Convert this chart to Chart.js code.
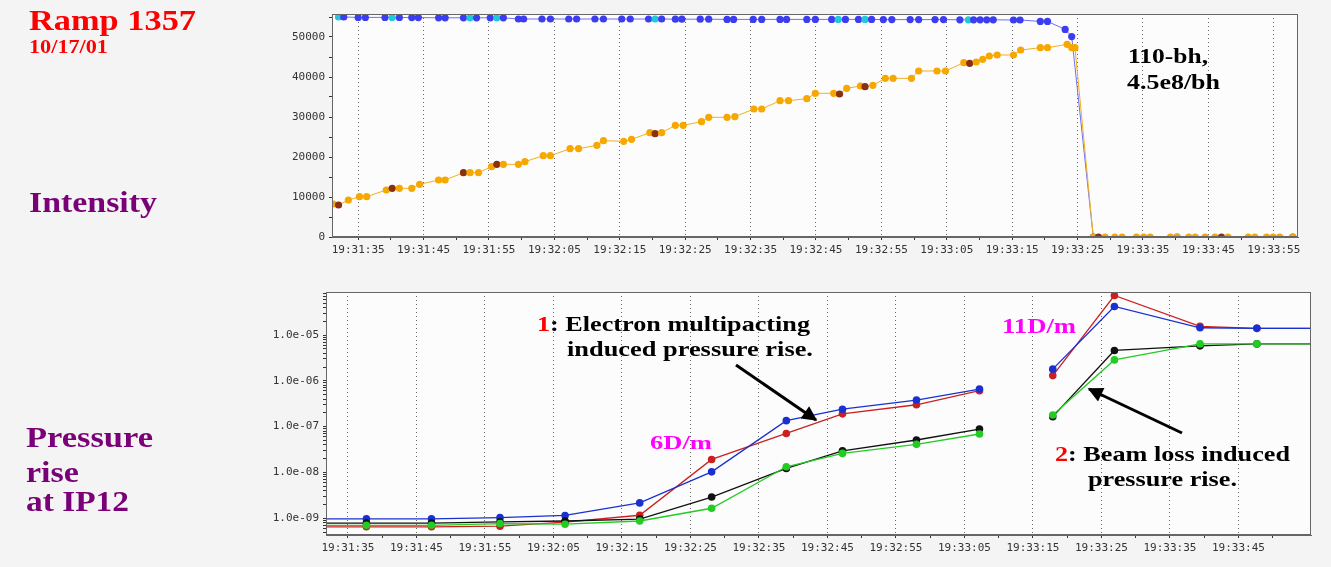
<!DOCTYPE html>
<html>
<head>
<meta charset="utf-8">
<script src="https://cdn.jsdelivr.net/npm/chart.js@4.4.1/dist/chart.umd.min.js"></script>
<style>
  html, body { margin: 0; padding: 0; background: #f4f4f4; }
  #wrap { position: relative; width: 1331px; height: 567px; overflow: hidden; background: #f4f4f4; }
  canvas { position: absolute; left: 0; }
  #c1 { top: 0; }
  #c2 { top: 270px; }
  .t { position: absolute; white-space: pre; line-height: 0; font-family: "Liberation Serif", "Times New Roman", serif; font-weight: bold; transform-origin: 0 50%; }
  svg { position: absolute; left: 0; top: 0; }
</style>
</head>
<body>
<div id="wrap">
  <canvas id="c1" width="1331" height="270"></canvas>
  <canvas id="c2" width="1331" height="297"></canvas>
  <svg width="1331" height="567" viewBox="0 0 1331 567">
    <defs>
      <marker id="ah" viewBox="0 0 10 10" refX="9" refY="5" markerWidth="5.5" markerHeight="5" orient="auto">
        <path d="M0,0 L10,5 L0,10 z" fill="#000"/>
      </marker>
    </defs>
    <line x1="736" y1="365" x2="816" y2="420" stroke="#000" stroke-width="3" marker-end="url(#ah)"/>
    <line x1="1182" y1="433" x2="1089" y2="389" stroke="#000" stroke-width="3" marker-end="url(#ah)"/>
  </svg>
</div>
<script>
// ---------- DATA ----------
// time = seconds after 19:31:00
const intensityTimeYellow = [31.2,32.0,33.5,35.2,36.3,39.3,40.2,41.3,43.2,44.4,47.3,48.3,51.1,52.1,53.4,55.4,56.2,57.2,59.5,60.5,
  63.3,64.4,67.4,68.7,71.5,72.5,75.6,76.8,79.6,80.4,81.4,83.5,84.7,87.5,88.6,91.4,92.6,95.5,96.7,99.5,
  100.8,103.6,104.9,107.7,108.6,109.7,111.8,112.5,113.7,115.6,116.8,119.6,120.7,123.5,124.8,127.6,128.5,129.5,130.5,131.5,
  132.7,135.2,136.3,139.3,140.4,143.4,144.1,144.6,147.4,148.2,149.2,150.7,151.8,154.0,155.1,156.1,159.2,160.2,162.0,163.0,
  164.5,166.0,167.0,168.0,171.1,172.1,173.9,174.9,175.9,177.9];
const intensityYellow = [8250,8000,9250,10080,10080,11750,12170,12170,12170,13170,14250,14250,16080,16080,16080,17580,18170,18170,18170,18830,
  20330,20330,22080,22080,22920,24080,23920,24420,26080,25830,26080,27920,27920,28830,29920,29920,30080,32000,32000,34080,
  34080,34580,35920,35920,35750,37170,37750,37580,37920,39670,39670,39670,41500,41500,41500,43580,43420,43750,44420,45250,
  45500,45500,46750,47330,47330,48170,47330,47330,0,0,0,0,0,0,0,0,0,0,0,0,
  0,0,0,0,0,0,0,0,0,0];
const yellowMarkedIdx = [1,6,12,16,29,44,47,56,69,82];

const intensityTimeBlue = [32.0,32.8,35.0,36.1,39.1,40.2,41.3,43.2,44.2,47.3,48.3,51.1,52.1,53.1,55.2,56.2,57.2,59.5,60.3,63.1,
  64.4,67.2,68.4,71.2,72.5,75.3,76.6,79.4,80.4,81.4,83.5,84.5,87.3,88.6,91.4,92.4,95.4,96.7,99.5,100.5,
  103.6,104.9,107.4,108.4,109.5,111.5,112.5,113.5,115.3,116.6,119.4,120.7,123.2,124.5,127.0,128.3,129.1,130.1,131.1,132.1,
  135.2,136.2,139.3,140.4,143.1,144.1,147.4,160.2,177.9];
const intensityBlue = [55000,55000,54900,54900,54900,54900,54900,54850,54850,54800,54800,54800,54800,54800,54800,54800,54800,54500,54500,54500,
  54500,54500,54500,54500,54500,54500,54500,54500,54500,54500,54450,54450,54450,54450,54400,54400,54400,54400,54400,54400,
  54400,54400,54400,54400,54400,54400,54400,54400,54350,54350,54350,54350,54350,54350,54300,54300,54300,54300,54300,54300,
  54250,54250,53900,53900,51900,50100,0,0,0];
const blueMarkedIdx = [0,5,12,15,28,43,46,55];

const intensityTicks = [35,40,45,50,55,60,65,70,75,80,85,90,95,100,105,110,115,120,125,130,135,140,145,150,155,160,165,170,175];
const intensityYTicks = [0,5000,10000,15000,20000,25000,30000,35000,40000,45000,50000,55000];

// pressure (null = data gap)
const pressureTime = [27, 37.7, 47.2, 57.2, 66.7, 77.6, 88.1, 99.0, 107.2, 118.0, 127.2, 132.5, 137.9, 146.9, 159.4, 167.7, 182];
const pressureBlue  = [0.97e-9, 0.97e-9, 0.97e-9, 1.03e-9, 1.15e-9, 2.16e-9, 1.03e-8, 1.35e-7, 2.4e-7, 3.8e-7, 6.6e-7, null, 1.8e-6, 4.2e-5, 1.44e-5, 1.4e-5, 1.4e-5];
const pressureRed   = [6.5e-10, 6.5e-10, 6.5e-10, 6.7e-10, 8.2e-10, 1.16e-9, 1.92e-8, 7.1e-8, 1.9e-7, 3.0e-7, 6.1e-7, null, 1.3e-6, 7.3e-5, 1.55e-5, 1.4e-5, 1.4e-5];
const pressureBlack = [7.8e-10, 7.8e-10, 7.8e-10, 8.3e-10, 8.7e-10, 9.6e-10, 2.9e-9, 1.22e-8, 2.97e-8, 5.1e-8, 8.85e-8, null, 1.65e-7, 4.6e-6, 5.8e-6, 6.4e-6, 6.4e-6];
const pressureGreen = [7.0e-10, 7.0e-10, 7.0e-10, 7.65e-10, 7.4e-10, 8.7e-10, 1.65e-9, 1.33e-8, 2.6e-8, 4.1e-8, 6.9e-8, null, 1.8e-7, 2.86e-6, 6.4e-6, 6.4e-6, 6.4e-6];
const pressureTicks = [35,40,45,50,55,60,65,70,75,80,85,90,95,100,105,110,115,120,125,130,135,140,145,150,155,160,165,170];
const pressureLabelMax = 165;

// ---------- helpers ----------
function fmtTime(t) {
  const m = 31 + Math.floor(t / 60);
  const s = Math.round(t % 60);
  return '19:' + String(m).padStart(2, '0') + ':' + String(s).padStart(2, '0');
}
function isLabelTick(v, maxLabel) { return ((v - 35) % 10 === 0) && v <= maxLabel; }
function pts(xs, ys) { return xs.map((x, i) => ({ x: x, y: ys[i] })); }

const framePlugin = {
  id: 'frame',
  beforeDraw(chart) {
    const { ctx, chartArea: a } = chart;
    ctx.save();
    ctx.fillStyle = '#fcfcfc';
    ctx.fillRect(a.left, a.top, a.right - a.left, a.bottom - a.top);
    ctx.restore();
  },
  afterDraw(chart) {
    const { ctx, chartArea: a } = chart;
    ctx.save();
    ctx.strokeStyle = '#666666';
    ctx.lineWidth = 1;
    ctx.strokeRect(Math.round(a.left) + 0.5, Math.round(a.top) + 0.5, Math.round(a.right - a.left) - 1, Math.round(a.bottom - a.top) - 1);
    ctx.restore();
  }
};

const tickFont = { family: 'DejaVu Sans Mono', size: 11 };
Chart.defaults.color = '#333';

// ---------- intensity chart ----------
new Chart(document.getElementById('c1'), {
  type: 'line',
  data: {
    datasets: [
      {
        data: pts(intensityTimeBlue, intensityBlue), order: 2,
        borderColor: '#7070f0', borderWidth: 1,
        pointRadius: 3.6, pointBorderWidth: 0,
        pointBackgroundColor: ctx => blueMarkedIdx.includes(ctx.dataIndex) ? '#20c8d8' : '#3c3cf0',
        tension: 0
      },
      {
        data: pts(intensityTimeYellow, intensityYellow), order: 1,
        borderColor: '#f0b020', borderWidth: 1,
        pointRadius: 3.6, pointBorderWidth: 0,
        pointBackgroundColor: ctx => yellowMarkedIdx.includes(ctx.dataIndex) ? '#8a3010' : '#f6a800',
        tension: 0
      }
    ]
  },
  options: {
    responsive: false, animation: false,
    layout: { padding: { left: 272, right: 33, top: 14, bottom: 0 } },
    plugins: { legend: { display: false }, tooltip: { enabled: false } },
    scales: {
      x: {
        type: 'linear', min: 31.0, max: 178.7,
        afterBuildTicks: s => { s.ticks = intensityTicks.map(v => ({ value: v })); },
        afterFit: s => { s.height = 33; },
        ticks: { font: tickFont, maxRotation: 0, autoSkip: false, padding: 4,
          callback: (v) => isLabelTick(v, 1000) ? fmtTime(v) : '' },
        grid: { color: c => (c.tick && isLabelTick(c.tick.value, 1000)) ? '#666' : 'rgba(0,0,0,0)',
          tickColor: '#333', tickLength: 3, lineWidth: 1 },
        border: { display: true, color: '#666', dash: [1, 3] }
      },
      y: {
        type: 'linear', min: 0, max: 55750,
        afterBuildTicks: s => { s.ticks = intensityYTicks.map(v => ({ value: v })); },
        afterFit: s => { s.width = 60; },
        ticks: { font: tickFont, autoSkip: false, padding: 4,
          callback: v => (v % 10000 === 0) ? String(v) : '' },
        grid: { drawOnChartArea: false, tickColor: '#333', tickLength: 3 },
        border: { display: true, color: '#666' }
      }
    }
  },
  plugins: [framePlugin]
});

// ---------- pressure chart ----------
function pset(vals, color, order) {
  return {
    data: pts(pressureTime, vals), order: order,
    borderColor: color, borderWidth: 1.3,
    pointRadius: 3.8, pointBorderWidth: 0, pointBackgroundColor: color,
    spanGaps: false, tension: 0
  };
}
new Chart(document.getElementById('c2'), {
  type: 'line',
  data: {
    datasets: [
      pset(pressureRed, '#cc2020', 4),
      pset(pressureBlue, '#1a30d0', 3),
      pset(pressureBlack, '#111111', 2),
      pset(pressureGreen, '#22cc22', 1)
    ]
  },
  options: {
    responsive: false, animation: false,
    layout: { padding: { left: 266, right: 20, top: 22, bottom: 0 } },
    plugins: { legend: { display: false }, tooltip: { enabled: false } },
    scales: {
      x: {
        type: 'linear', min: 31.8, max: 175.6,
        afterBuildTicks: s => { s.ticks = pressureTicks.map(v => ({ value: v })); },
        afterFit: s => { s.height = 32; },
        ticks: { font: tickFont, maxRotation: 0, autoSkip: false, padding: 4,
          callback: (v) => isLabelTick(v, pressureLabelMax) ? fmtTime(v) : '' },
        grid: { color: c => (c.tick && isLabelTick(c.tick.value, pressureLabelMax)) ? '#666' : 'rgba(0,0,0,0)',
          tickColor: '#333', tickLength: 3, lineWidth: 1 },
        border: { display: true, color: '#666', dash: [1, 3] }
      },
      y: {
        type: 'logarithmic', min: 4.3e-10, max: 8.7e-5,
        afterBuildTicks: s => {
          const t = [];
          for (let e = -10; e <= -5; e++) for (let k = 1; k <= 9; k++) {
            const v = k * Math.pow(10, e);
            if (v >= s.min && v <= s.max) t.push({ value: v, major: k === 1 });
          }
          s.ticks = t;
        },
        afterFit: s => { s.width = 60; },
        ticks: { font: tickFont, autoSkip: false, padding: 4,
          callback: function (v) {
            const e = Math.round(Math.log10(v));
            if (Math.abs(v / Math.pow(10, e) - 1) > 1e-6) return '';
            return '1.0e-' + String(-e).padStart(2, '0');
          } },
        grid: { drawOnChartArea: false, tickColor: '#333', tickLength: c => (c.tick && c.tick.major) ? 4 : 3 },
        border: { display: true, color: '#666' }
      }
    }
  },
  plugins: [framePlugin]
});

// ---------- text annotations ----------
const labels = [
  // [html, left, baseline, size, color, targetWidth]
  ['Ramp 1357', 29, 30, 30, '#ff0000', 167],
  ['10/17/01', 29, 53, 19, '#ff0000', 79],
  ['Intensity', 29, 212, 30, '#7a0078', 128],
  ['Pressure', 26, 447, 29, '#7a0078', 127],
  ['rise', 26, 482, 29, '#7a0078', 53],
  ['at IP12', 26, 511, 29, '#7a0078', 103],
  ['110-bh,', 1128, 63, 20, '#000', 80],
  ['4.5e8/bh', 1127, 89, 20, '#000', 93],
  ['<span style="color:#ff0000">1</span>: Electron multipacting', 537, 331, 21, '#000', 273],
  ['induced pressure rise.', 567, 356, 21, '#000', 246],
  ['6D/m', 650, 449, 19, '#ff00ff', 62],
  ['11D/m', 1002, 333, 20, '#ff00ff', 74],
  ['<span style="color:#ff0000">2</span>: Beam loss induced', 1055, 461, 21, '#000', 235],
  ['pressure rise.', 1088, 486, 21, '#000', 149]
];
const wrap = document.getElementById('wrap');
labels.forEach(([h, x, b, s, c, w]) => {
  const d = document.createElement('div');
  d.className = 't';
  d.innerHTML = h;
  d.style.left = x + 'px';
  d.style.top = (b - 0.3375 * s) + 'px';
  d.style.fontSize = s + 'px';
  d.style.color = c;
  wrap.appendChild(d);
  const actual = d.getBoundingClientRect().width;
  if (actual > 0) d.style.transform = 'scaleX(' + (w / actual).toFixed(3) + ')';
});
</script>
</body>
</html>
